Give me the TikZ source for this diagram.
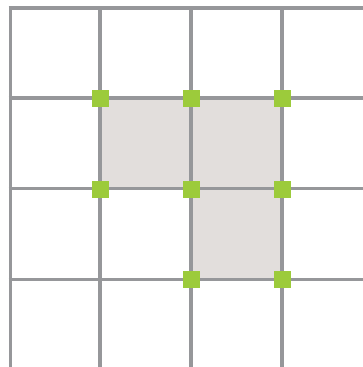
\documentclass[tikz,border=0pt]{standalone}
\begin{document}
\begin{tikzpicture}[x=1pt,y=-1pt,
  gridline/.style={draw=gridgray,line width=3.6pt},
  cellfill/.style={fill=cellbeige},
  corner/.style={fill=dotgreen,minimum size=17pt,inner sep=0pt,outer sep=0pt,draw=none,rectangle}]
\definecolor{gridgray}{HTML}{96979A}
\definecolor{cellbeige}{HTML}{E2DEDC}
\definecolor{dotgreen}{HTML}{9CCB3B}
\useasboundingbox (0,0) rectangle (363,367);
\fill[white] (0,0) rectangle (363,367);
% shaded cells
\fill[cellfill] (100,98) rectangle (191,188.5);
\fill[cellfill] (191,98) rectangle (282,188.5);
\fill[cellfill] (191,188.5) rectangle (282,279.5);
% grid lines
\foreach \x in {10.5,99.8,190.8,281.8} \draw[gridline] (\x,6.2) -- (\x,367);
\foreach \y in {8,98,188.5,279.5} \draw[gridline] (8.7,\y) -- (363,\y);
% corners
\node[corner] (a) at (100,98) {};
\node[corner] (b) at (191,98) {};
\node[corner] (c) at (282,98) {};
\node[corner] (d) at (100,189) {};
\node[corner] (e) at (191,189) {};
\node[corner] (f) at (282,189) {};
\node[corner] (g) at (191,279.5) {};
\node[corner] (h) at (282,279.5) {};
\end{tikzpicture}
\end{document}
